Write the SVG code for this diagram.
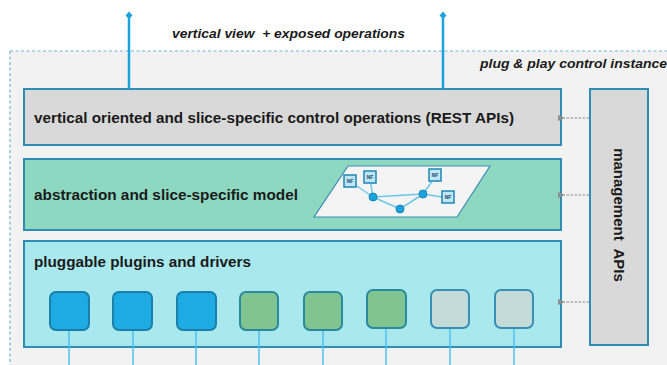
<svg xmlns="http://www.w3.org/2000/svg" width="667" height="365" viewBox="0 0 667 365">
<defs>
<style>
.lbl{font-family:"Liberation Sans",Arial,sans-serif;font-weight:bold;font-size:15px;fill:#1a1a1a;white-space:pre}
.it{font-family:"Liberation Sans",Arial,sans-serif;font-weight:bold;font-style:italic;font-size:13px;fill:#1a1a1a;white-space:pre}
.box{stroke:#2f8cb4;stroke-width:2}
.up{stroke:#1aa3dc;stroke-width:2.5;fill:none}
.mg{stroke:#8c8c8c;stroke-width:1.2;stroke-dasharray:2.5 1.5;fill:none}
.wire{stroke:#4cc2ee;stroke-width:1.5}
.sq{stroke-width:2}
.nf{fill:#bfe6f6;stroke:#1f86b3;stroke-width:1.5}
.nfl{font-family:"Liberation Sans",Arial,sans-serif;font-weight:bold;font-size:5px;fill:#1a4a6a}
.ln{stroke:#6cc6e8;stroke-width:1.5}
.dot{fill:#1aa3dc;stroke:#1a86b8;stroke-width:1}
</style>
<marker id="ah" markerWidth="7" markerHeight="7" refX="1" refY="3.5" orient="auto" markerUnits="userSpaceOnUse">
<path d="M0,3.5 L7,0.5 L7,6.5 z" fill="#8c8c8c"/>
</marker>
</defs>
<rect width="667" height="365" fill="#ffffff"/>
<g id="instance">
<rect x="10" y="51" width="680" height="330" fill="#f2f2f2"/>
<path d="M10,51 H667 M10,51 V365" stroke="#6fb4cf" stroke-width="1.2" stroke-dasharray="3 2.5" fill="none"/>
<text class="it" x="480" y="68" textLength="187" lengthAdjust="spacingAndGlyphs">plug &amp; play control instance</text>
</g>
<text class="it" x="172" y="38" textLength="233" lengthAdjust="spacingAndGlyphs">vertical view  + exposed operations</text>
<g id="rest">
<rect class="box" x="24" y="89" width="537" height="56" fill="#d9d9d9"/>
<text class="lbl" x="34" y="123" textLength="480" lengthAdjust="spacingAndGlyphs">vertical oriented and slice-specific control operations (REST APIs)</text>
</g>
<g id="model">
<rect class="box" x="24" y="159" width="537" height="71" fill="#8ed8c1"/>
<text class="lbl" x="34" y="200" textLength="264" lengthAdjust="spacingAndGlyphs">abstraction and slice-specific model</text>
<g id="graph">
<polygon points="348,166 490,166 457,217 314,217" fill="#f4f4f4" stroke="#3a8fb4" stroke-width="1.2"/>
<line class="ln" x1="351" y1="182" x2="373" y2="197"/>
<line class="ln" x1="370" y1="179" x2="373" y2="197"/>
<line class="ln" x1="373" y1="197" x2="423" y2="194"/>
<line class="ln" x1="373" y1="197" x2="400" y2="209"/>
<line class="ln" x1="400" y1="209" x2="423" y2="194"/>
<line class="ln" x1="423" y1="194" x2="435" y2="177"/>
<line class="ln" x1="423" y1="194" x2="448" y2="198"/>
<circle class="dot" cx="373" cy="197" r="4"/>
<circle class="dot" cx="400" cy="209" r="4"/>
<circle class="dot" cx="423" cy="194" r="4"/>
<rect class="nf" x="344" y="175" width="12" height="12"/>
<text class="nfl" x="350" y="183" text-anchor="middle">NF</text>
<rect class="nf" x="364" y="171" width="12" height="12"/>
<text class="nfl" x="370" y="179" text-anchor="middle">NF</text>
<rect class="nf" x="429" y="169" width="12" height="12"/>
<text class="nfl" x="435" y="177" text-anchor="middle">NF</text>
<rect class="nf" x="442" y="191" width="12" height="12"/>
<text class="nfl" x="448" y="199" text-anchor="middle">NF</text>
</g>
</g>
<g id="plugins">
<rect class="box" x="24" y="241" width="537" height="106" fill="#a9e9ee"/>
<text class="lbl" x="34" y="267" textLength="217" lengthAdjust="spacingAndGlyphs">pluggable plugins and drivers</text>
</g>
<g id="management">
<rect class="box" x="590" y="89" width="58" height="256" fill="#d9d9d9"/>
<text class="lbl" x="0" y="0" text-anchor="middle" transform="translate(614,215) rotate(90)">management  APIs</text>
</g>
<g id="connectors">
<line class="up" x1="129" y1="16" x2="129" y2="89"/>
<line class="up" x1="443" y1="16" x2="443" y2="89"/>
<path d="M129,11.5 L132.5,15.5 L129,19 L125.5,15.5 z" fill="#1aa3dc"/>
<path d="M443,11.5 L446.5,15.5 L443,19 L439.5,15.5 z" fill="#1aa3dc"/>
<line class="mg" x1="589" y1="118" x2="564" y2="118" marker-end="url(#ah)"/>
<line class="mg" x1="589" y1="195" x2="564" y2="195" marker-end="url(#ah)"/>
<line class="mg" x1="589" y1="302" x2="564" y2="302" marker-end="url(#ah)"/>
<line class="wire" x1="69" y1="330" x2="69" y2="365"/>
<line class="wire" x1="133" y1="330" x2="133" y2="365"/>
<line class="wire" x1="196" y1="330" x2="196" y2="365"/>
<line class="wire" x1="259" y1="330" x2="259" y2="365"/>
<line class="wire" x1="323" y1="330" x2="323" y2="365"/>
<line class="wire" x1="386" y1="328" x2="386" y2="365"/>
<line class="wire" x1="450" y1="328" x2="450" y2="365"/>
<line class="wire" x1="514" y1="328" x2="514" y2="365"/>
</g>
<g id="p1"><rect class="sq" x="50" y="292" width="39" height="38" rx="6" fill="#1eabe3" stroke="#1a7fab"/></g>
<g id="p2"><rect class="sq" x="113" y="292" width="39" height="38" rx="6" fill="#1eabe3" stroke="#1a7fab"/></g>
<g id="p3"><rect class="sq" x="177" y="292" width="39" height="38" rx="6" fill="#1eabe3" stroke="#1a7fab"/></g>
<g id="p4"><rect class="sq" x="240" y="292" width="38" height="38" rx="6" fill="#80c491" stroke="#2a8a9c"/></g>
<g id="p5"><rect class="sq" x="304" y="292" width="38" height="38" rx="6" fill="#80c491" stroke="#2a8a9c"/></g>
<g id="p6"><rect class="sq" x="367" y="290" width="39" height="38" rx="6" fill="#80c491" stroke="#2a8a9c"/></g>
<g id="p7"><rect class="sq" x="431" y="290" width="38" height="38" rx="6" fill="#c3dcd9" stroke="#3a8fb4"/></g>
<g id="p8"><rect class="sq" x="495" y="290" width="38" height="38" rx="6" fill="#c3dcd9" stroke="#3a8fb4"/></g>
</svg>
